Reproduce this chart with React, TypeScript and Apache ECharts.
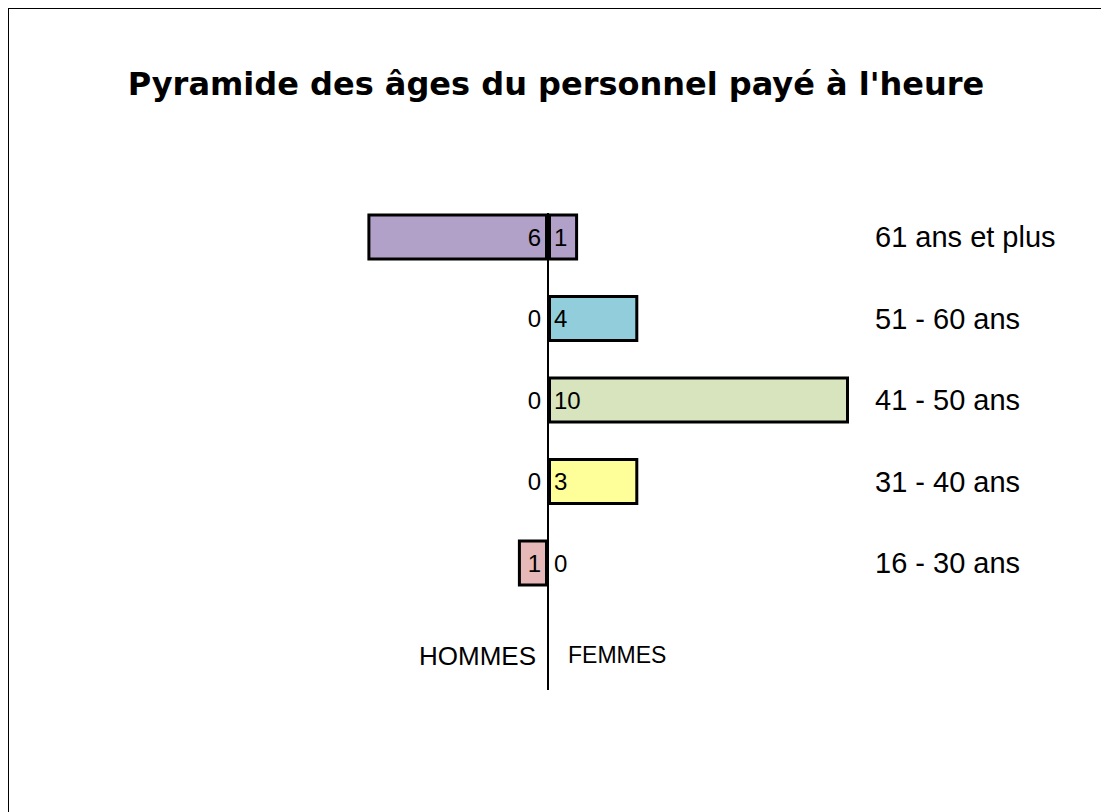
import React, { useEffect, useRef } from "react";
import * as echarts from "echarts";

const categories = ["61 ans et plus", "51 - 60 ans", "41 - 50 ans", "31 - 40 ans", "16 - 30 ans"];
const hommes = [6, 0, 0, 0, 1];
const femmes = [1, 3, 10, 3, 0];
const hommesLabels = ["6", "0", "0", "0", "1"];
const femmesLabels = ["1", "4", "10", "3", "0"];
const barColors = ["#b1a0c7", "#92cddc", "#d7e4bd", "#ffff99", "#e6b9b8"];
const titleText = "Pyramide des âges du personnel payé à l'heure";
const menLabel = "HOMMES";
const womenLabel = "FEMMES";

const FONT = "'Liberation Sans', Arial, sans-serif";

export default function App() {
  const ref = useRef<HTMLDivElement>(null);
  useEffect(() => {
    if (!ref.current) return;
    const chart = echarts.init(ref.current, undefined, { renderer: "svg" });
    const labelBase = { color: "#000", fontFamily: FONT, fontSize: 24 };
    const item = (v: number, i: number, sign: number) => ({
      value: sign * v,
      itemStyle: { color: barColors[i], borderColor: "#000", borderWidth: v === 0 ? 0 : 3 },
    });
    chart.setOption({
      animation: false,
      backgroundColor: "#fff",
      title: {
        text: titleText,
        left: 542,
        top: 54,
        textAlign: "center",
        textStyle: { fontFamily: "'DejaVu Sans', sans-serif", fontWeight: "bold", fontSize: 32, color: "#000" },
      },
      grid: { left: 358.4, right: 260, top: 187.25, bottom: 803 - 594.75, containLabel: false },
      xAxis: {
        type: "value",
        min: -6,
        max: 10,
        show: false,
      },
      yAxis: {
        type: "category",
        data: categories,
        inverse: true,
        position: "right",
        axisLine: { show: false, onZero: false },
        axisTick: { show: false },
        axisLabel: { color: "#000", fontFamily: FONT, fontSize: 29, margin: 26, align: "left" },
        splitLine: { show: false },
      },
      series: [
        {
          name: menLabel,
          type: "bar",
          barWidth: 47,
          barGap: "-100%",
          data: hommes.map((v, i) => item(v, i, -1)),
          label: {
            show: true,
            position: "insideRight",
            distance: 7,
            ...labelBase,
            formatter: (p: any) => hommesLabels[p.dataIndex],
          },
        },
        {
          name: womenLabel,
          type: "bar",
          barWidth: 47,
          barGap: "-100%",
          data: femmes.map((v, i) => item(v, i, 1)),
          label: {
            show: true,
            position: "insideLeft",
            distance: 6,
            ...labelBase,
            formatter: (p: any) => femmesLabels[p.dataIndex],
          },
        },
      ],
    });
    const x0 = chart.convertToPixel({ xAxisIndex: 0 }, 0) as number;
    chart.setOption({
      graphic: [
        {
          type: "line",
          z: 100,
          shape: { x1: x0, y1: 204, x2: x0, y2: 681 },
          style: { stroke: "#000", lineWidth: 2 },
        },
        {
          type: "text",
          x: x0 - 12,
          y: 647,
          style: { text: menLabel, fill: "#000", font: `26px ${FONT}`, textAlign: "right", textVerticalAlign: "middle" },
        },
        {
          type: "text",
          x: x0 + 20,
          y: 646,
          style: { text: womenLabel, fill: "#000", font: `23px ${FONT}`, textAlign: "left", textVerticalAlign: "middle" },
        },
      ],
    });
    return () => chart.dispose();
  }, []);
  return (
    <div
      style={{
        marginLeft: -1,
        marginTop: -1,
        borderLeft: "2px solid #000",
        borderTop: "2px solid #000",
        width: 1110,
        height: 812,
      }}
    >
      <div ref={ref} style={{ width: 1100, height: 803 }} />
    </div>
  );
}
